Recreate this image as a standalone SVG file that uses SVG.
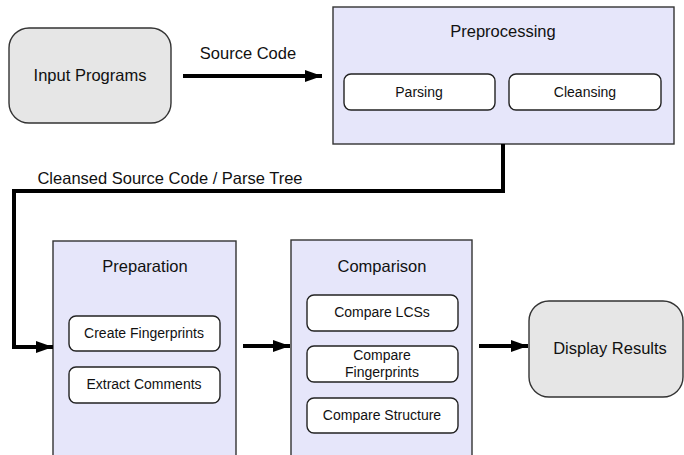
<svg xmlns="http://www.w3.org/2000/svg" width="684" height="455" viewBox="0 0 684 455">
<style>
text{font-family:"Liberation Sans",Arial,sans-serif;fill:#111;text-anchor:middle}
.big{font-size:16.5px}
.sm{font-size:14px}
.term{fill:#e6e6e6;stroke:#333;stroke-width:1.4}
.grp{fill:#e6e6fa;stroke:#333;stroke-width:1.4}
.sub{fill:#fff;stroke:#222;stroke-width:1.4}
.conn{fill:none;stroke:#000;stroke-width:4;marker-end:url(#ah)}
</style>
<defs>
<marker id="ah" markerUnits="userSpaceOnUse" markerWidth="18" markerHeight="14" refX="17" refY="7" orient="auto">
<path d="M0,1 L17,7 L0,13 Z" fill="#000"/>
</marker>
</defs>
<g id="input-programs">
<rect class="term" x="9" y="28" width="162" height="95" rx="20"/>
<text class="big" x="90" y="81">Input Programs</text>
</g>
<g id="preprocessing">
<rect class="grp" x="333" y="7" width="341" height="137"/>
<text class="big" x="503" y="37">Preprocessing</text>
<rect class="sub" x="344" y="74" width="151" height="36" rx="7"/>
<text class="sm" x="419" y="97">Parsing</text>
<rect class="sub" x="509" y="74" width="152" height="36" rx="7"/>
<text class="sm" x="585" y="97">Cleansing</text>
</g>
<g id="preparation">
<rect class="grp" x="53" y="241" width="183" height="230"/>
<text class="big" x="145" y="272">Preparation</text>
<rect class="sub" x="69" y="316" width="151" height="35" rx="7"/>
<text class="sm" x="144" y="338">Create Fingerprints</text>
<rect class="sub" x="69" y="367" width="151" height="36" rx="7"/>
<text class="sm" x="144" y="389">Extract Comments</text>
</g>
<g id="comparison">
<rect class="grp" x="291" y="240" width="181" height="230"/>
<text class="big" x="382" y="272">Comparison</text>
<rect class="sub" x="307" y="295" width="151" height="36" rx="7"/>
<text class="sm" x="382" y="317">Compare LCSs</text>
<rect class="sub" x="307" y="346" width="151" height="36" rx="7"/>
<text class="sm" x="382" y="360">Compare</text>
<text class="sm" x="382" y="377">Fingerprints</text>
<rect class="sub" x="307" y="398" width="151" height="35" rx="7"/>
<text class="sm" x="382" y="420">Compare Structure</text>
</g>
<g id="display-results">
<rect class="term" x="529" y="301" width="154" height="96" rx="20"/>
<text class="big" x="610" y="354">Display Results</text>
</g>
<g id="connectors">
<path class="conn" d="M183,76 H322"/>
<text class="big" x="248" y="59">Source Code</text>
<path class="conn" d="M503,144 V191 H14 V347 H53"/>
<text class="big" x="170" y="184">Cleansed Source Code / Parse Tree</text>
<path class="conn" d="M243,346 H290"/>
<path class="conn" d="M479,346 H528"/>
</g>
</svg>
